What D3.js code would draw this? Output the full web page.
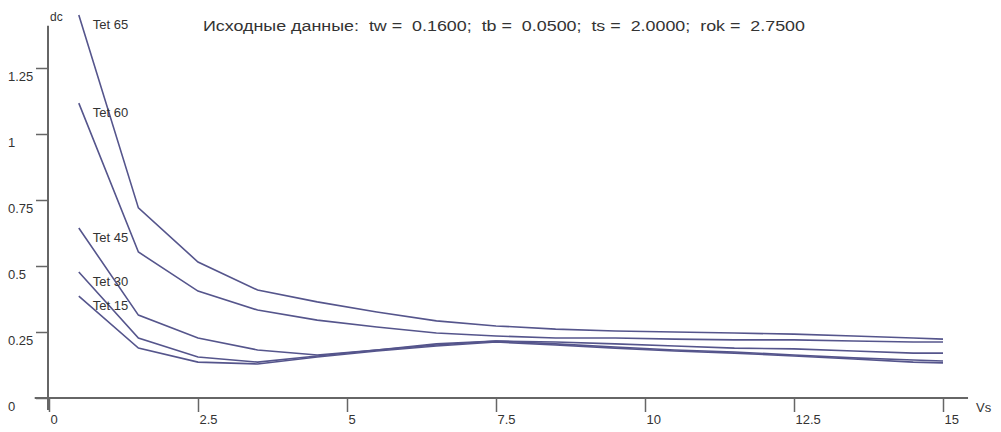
<!DOCTYPE html>
<html>
<head>
<meta charset="UTF-8">
<title>dc vs Vs</title>
<script src="https://d3js.org/d3.v7.min.js"></script>
<style>
 body { margin: 0; background: #fff; }
 text { font-family: "Liberation Sans", Arial, sans-serif; fill: #333; }
</style>
</head>
<body>
<svg width="1001" height="432"></svg>
<script>
// values
var vs = [0.5, 1.5, 2.5, 3.5, 4.5, 5.5, 6.5, 7.5, 8.5, 9.5, 10.5, 11.5, 12.5, 13.5, 14.5, 15];
var tet65 = [1.451, 0.720, 0.515, 0.409, 0.364, 0.326, 0.292, 0.273, 0.261, 0.254, 0.250, 0.246, 0.242, 0.235, 0.227, 0.223];
var tet60 = [1.117, 0.553, 0.405, 0.333, 0.295, 0.269, 0.246, 0.235, 0.227, 0.227, 0.223, 0.220, 0.220, 0.216, 0.212, 0.212];
var tet45 = [0.644, 0.314, 0.227, 0.182, 0.163, 0.182, 0.205, 0.216, 0.212, 0.205, 0.197, 0.189, 0.186, 0.178, 0.170, 0.170];
var tet30 = [0.477, 0.227, 0.155, 0.136, 0.159, 0.182, 0.201, 0.216, 0.205, 0.193, 0.182, 0.174, 0.163, 0.152, 0.144, 0.140];
var tet15 = [0.386, 0.189, 0.136, 0.129, 0.155, 0.178, 0.197, 0.212, 0.201, 0.189, 0.178, 0.170, 0.159, 0.148, 0.136, 0.133];
var seriesNames = ["Tet 65", "Tet 60", "Tet 45", "Tet 30", "Tet 15"];
var xTicks = [0, 2.5, 5, 7.5, 10, 12.5, 15];
var yTicks = [0, 0.25, 0.5, 0.75, 1, 1.25];
var title = "Исходные данные:  tw =  0.1600;  tb =  0.0500;  ts =  2.0000;  rok =  2.7500";

var series = [tet65, tet60, tet45, tet30, tet15];

var svg = d3.select("svg");

var x = d3.scaleLinear().domain([0, 15]).range([49, 943]);
var y = d3.scaleLinear().domain([0, 1.25]).range([398, 68]);

var axisColor = "#666";

// y axis
var yAxis = d3.axisLeft(y).tickValues(yTicks).tickSize(12).tickFormat(d3.format("~g"));
var gy = svg.append("g").attr("transform", "translate(48,0)").call(yAxis);
gy.select(".domain").remove();
gy.selectAll(".tick line").attr("stroke", axisColor).attr("stroke-width", 1.5);
gy.selectAll(".tick text")
  .attr("x", -40).attr("dy", "0.95em")
  .attr("text-anchor", "start")
  .style("font-size", "13px").style("fill", "#333");

// x axis
var xAxis = d3.axisBottom(x).tickValues(xTicks).tickSize(14).tickFormat(d3.format("~g"));
var gx = svg.append("g").attr("transform", "translate(0,398)").call(xAxis);
gx.select(".domain").remove();
gx.selectAll(".tick line").attr("stroke", axisColor).attr("stroke-width", 1.5);
gx.selectAll(".tick text")
  .attr("x", 1).attr("y", 17).attr("dy", "0.71em")
  .attr("text-anchor", "start")
  .style("font-size", "13px").style("fill", "#333");

// axis lines
svg.append("line")
  .attr("x1", 48).attr("x2", 48)
  .attr("y1", y(1.41)).attr("y2", y(-0.045))
  .attr("stroke", axisColor).attr("stroke-width", 2);
svg.append("line")
  .attr("x1", x(-0.24)).attr("x2", x(15.42))
  .attr("y1", 398).attr("y2", 398)
  .attr("stroke", axisColor).attr("stroke-width", 2);

// axis names
svg.append("text").attr("x", 50).attr("y", 21).text("dc").style("font-size", "12px");
svg.append("text").attr("x", 976).attr("y", 412).text("Vs").style("font-size", "13px");

// title
svg.append("text").attr("x", 203).attr("y", 31)
  .attr("textLength", 602).attr("lengthAdjust", "spacingAndGlyphs")
  .style("font-size", "14px").style("white-space", "pre")
  .text(title);

// curves
var line = d3.line()
  .x(function(d, i) { return x(vs[i]); })
  .y(function(d) { return y(d); });

svg.append("g").selectAll("path").data(series)
  .enter().append("path")
  .attr("d", line)
  .attr("fill", "none")
  .attr("stroke", "#55558c")
  .attr("stroke-width", 1.6);

// curve labels
svg.append("g").selectAll("text").data(series)
  .enter().append("text")
  .attr("x", function(d) { return x(vs[0]) + 14; })
  .attr("y", function(d) { return y(d[0]) + 14; })
  .style("font-size", "13px")
  .text(function(d, i) { return seriesNames[i]; });
</script>
</body>
</html>
